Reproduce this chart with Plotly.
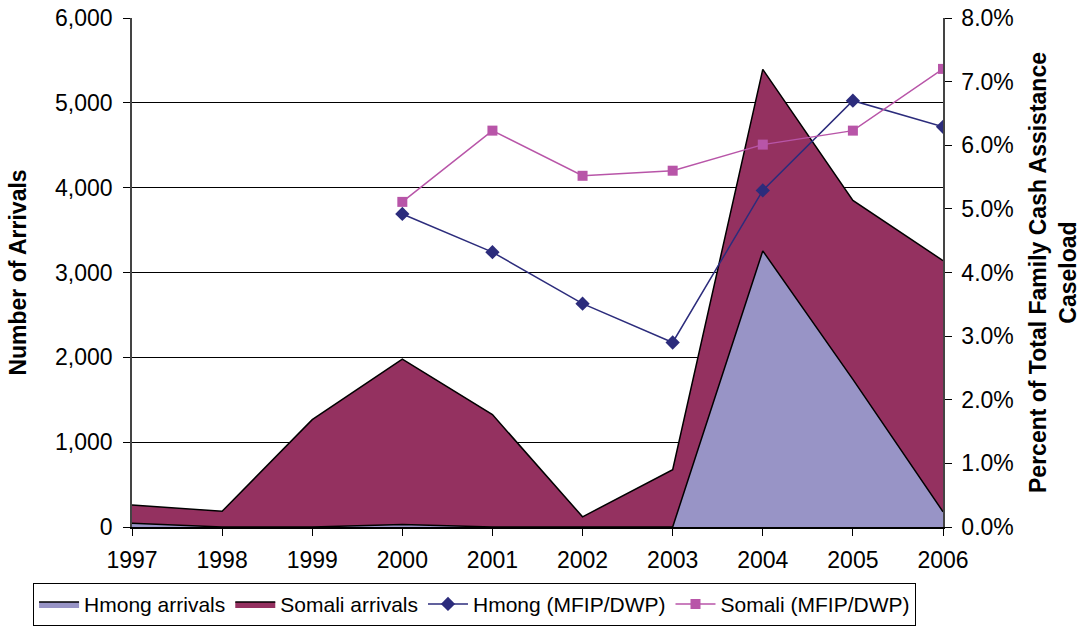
import plotly.graph_objects as go

years = [1997, 1998, 1999, 2000, 2001, 2002, 2003, 2004, 2005, 2006]
somali_arrivals = [260, 185, 1265, 1980, 1325, 120, 675, 5395, 3850, 3140]
hmong_arrivals = [45, 0, 0, 30, 0, 0, 0, 3255, 1740, 180]

rate_years = [2000, 2001, 2002, 2003, 2004, 2005, 2006]
hmong_rate = [0.0492, 0.0432, 0.0351, 0.0290, 0.0529, 0.0670, 0.0629]
somali_rate = [0.0511, 0.0623, 0.0552, 0.0560, 0.0601, 0.0623, 0.0720]

left_ticks = [0, 1000, 2000, 3000, 4000, 5000, 6000]

fig = go.Figure()
fig.add_trace(go.Scatter(x=years, y=somali_arrivals, name="Somali arrivals", mode="lines",
                         fill="tozeroy", fillcolor="#943160", line=dict(color="black", width=1.5),
                         legendrank=2))
fig.add_trace(go.Scatter(x=years, y=hmong_arrivals, name="Hmong arrivals", mode="lines",
                         fill="tozeroy", fillcolor="#9894C6", line=dict(color="black", width=1.5),
                         legendrank=1))
fig.add_trace(go.Scatter(x=rate_years, y=hmong_rate, name="Hmong (MFIP/DWP)", mode="lines+markers",
                         yaxis="y2", line=dict(color="#2C2C7C", width=1.5),
                         marker=dict(symbol="diamond", size=11, color="#2C2C7C"), legendrank=3))
fig.add_trace(go.Scatter(x=rate_years, y=somali_rate, name="Somali (MFIP/DWP)", mode="lines+markers",
                         yaxis="y2", line=dict(color="#B855A8", width=1.5),
                         marker=dict(symbol="square", size=10, color="#B855A8"), legendrank=4))

font_family = "Liberation Sans, Arial, sans-serif"
fig.update_layout(
    width=1083, height=639,
    margin=dict(l=132, r=140, t=18, b=112),
    plot_bgcolor="white", paper_bgcolor="white",
    font=dict(family=font_family, size=23, color="black"),
    showlegend=True,
    legend=dict(orientation="h", x=-0.122, xanchor="left", y=-0.194, yanchor="bottom",
                bordercolor="black", borderwidth=1,
                font=dict(family=font_family, size=21),
                traceorder="normal", itemwidth=40, tracegroupgap=0),
    xaxis=dict(range=[1997, 2006], tickmode="array", tickvals=years, ticktext=[str(y) for y in years],
               showgrid=False, zeroline=False, showline=True, linecolor="black", linewidth=1.5,
               ticks="outside", ticklen=7, tickcolor="black", tickfont=dict(size=23),
               ticklabelstandoff=5, automargin=False),
    yaxis=dict(range=[0, 6000], tickmode="array", tickvals=left_ticks,
               ticktext=[f"{v:,}" for v in left_ticks],
               showgrid=True, gridcolor="black", gridwidth=1, zeroline=False,
               showline=True, linecolor="#444444", linewidth=1.5, ticks="outside", ticklen=7,
               tickcolor="black", tickfont=dict(size=23), ticklabelstandoff=6, automargin=False,
               title=dict(text="<b>Number of Arrivals</b>", font=dict(size=23), standoff=22)),
    yaxis2=dict(range=[0, 0.08], overlaying="y", side="right", dtick=0.01, tickformat=".1%",
                showgrid=False, zeroline=False, showline=True, linecolor="#444444", linewidth=1.5,
                ticks="outside", ticklen=7, tickcolor="black", tickfont=dict(size=23),
                ticklabelstandoff=5, automargin=False,
                title=dict(text="<b>Percent of Total Family Cash Assistance<br>Caseload</b>",
                           font=dict(size=23), standoff=17)),
)

fig.write_html("out.html", config={"displayModeBar": False},
               post_script="document.body.style.margin='0';document.body.style.padding='0';")
